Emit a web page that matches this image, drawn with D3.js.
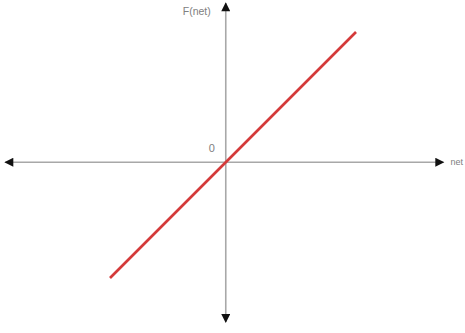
<!DOCTYPE html>
<html><head><meta charset="utf-8">
<script src="https://cdn.jsdelivr.net/npm/d3@7/dist/d3.min.js"></script>
<style>html,body{margin:0;padding:0;background:#fff;}</style>
</head><body>
<script>
// Data
const lineNet = [-2, 2.25];           // net values at line ends
const lineF = lineNet.map(v => v);    // identity F(net) = net (linear activation)
const xAxisExtent = [-3.81, 3.76];
const yAxisExtent = [-2.76, 2.75];
const labels = {x: "net", y: "F(net)", origin: "0"};

const W = 465, H = 333;
const svg = d3.select("body").append("svg").attr("width", W).attr("height", H);

const x = d3.scaleLinear().domain([-2, 2.25]).range([110, 356]);
const y = d3.scaleLinear().domain([-2, 2.25]).range([278, 32]);

const defs = svg.append("defs");
defs.append("marker").attr("id","arr").attr("viewBox","0 0 10 10")
  .attr("refX",9).attr("refY",5).attr("markerWidth",11).attr("markerHeight",9)
  .attr("markerUnits","userSpaceOnUse").attr("orient","auto-start-reverse")
  .append("path").attr("d","M0,0 L10,5 L0,10 Z").attr("fill","#111");

const axisColor = "#a8a8a8";
// x axis
svg.append("line")
  .attr("x1", x(xAxisExtent[0])).attr("x2", x(xAxisExtent[1]))
  .attr("y1", y(0)).attr("y2", y(0))
  .attr("stroke", axisColor).attr("stroke-width", 1.6)
  .attr("marker-start","url(#arr)").attr("marker-end","url(#arr)");
// y axis
svg.append("line")
  .attr("x1", x(0)).attr("x2", x(0))
  .attr("y1", y(yAxisExtent[0])).attr("y2", y(yAxisExtent[1]))
  .attr("stroke", axisColor).attr("stroke-width", 1.6)
  .attr("marker-start","url(#arr)").attr("marker-end","url(#arr)");

// function line
svg.append("path")
  .datum(lineNet.map((v,i)=>[v,lineF[i]]))
  .attr("d", d3.line().x(d=>x(d[0])).y(d=>y(d[1])))
  .attr("stroke", "#d43a3a").attr("stroke-width", 2.6).attr("fill","none");

// labels
const tc = "#808080";
const ff = "Liberation Sans, Arial, sans-serif";
svg.append("text").attr("x", x(0)-15).attr("y", 15).attr("text-anchor","end")
  .attr("font-family",ff).attr("font-size",10.5).attr("fill",tc).text(labels.y);
svg.append("text").attr("x", x(0)-14).attr("y", y(0)-10).attr("text-anchor","middle")
  .attr("font-family",ff).attr("font-size",11).attr("fill",tc).text(labels.origin);
svg.append("text").attr("x", x(xAxisExtent[1])+7).attr("y", y(0)+3)
  .attr("font-family",ff).attr("font-size",9).attr("fill",tc).text(labels.x);
</script>
</body></html>
